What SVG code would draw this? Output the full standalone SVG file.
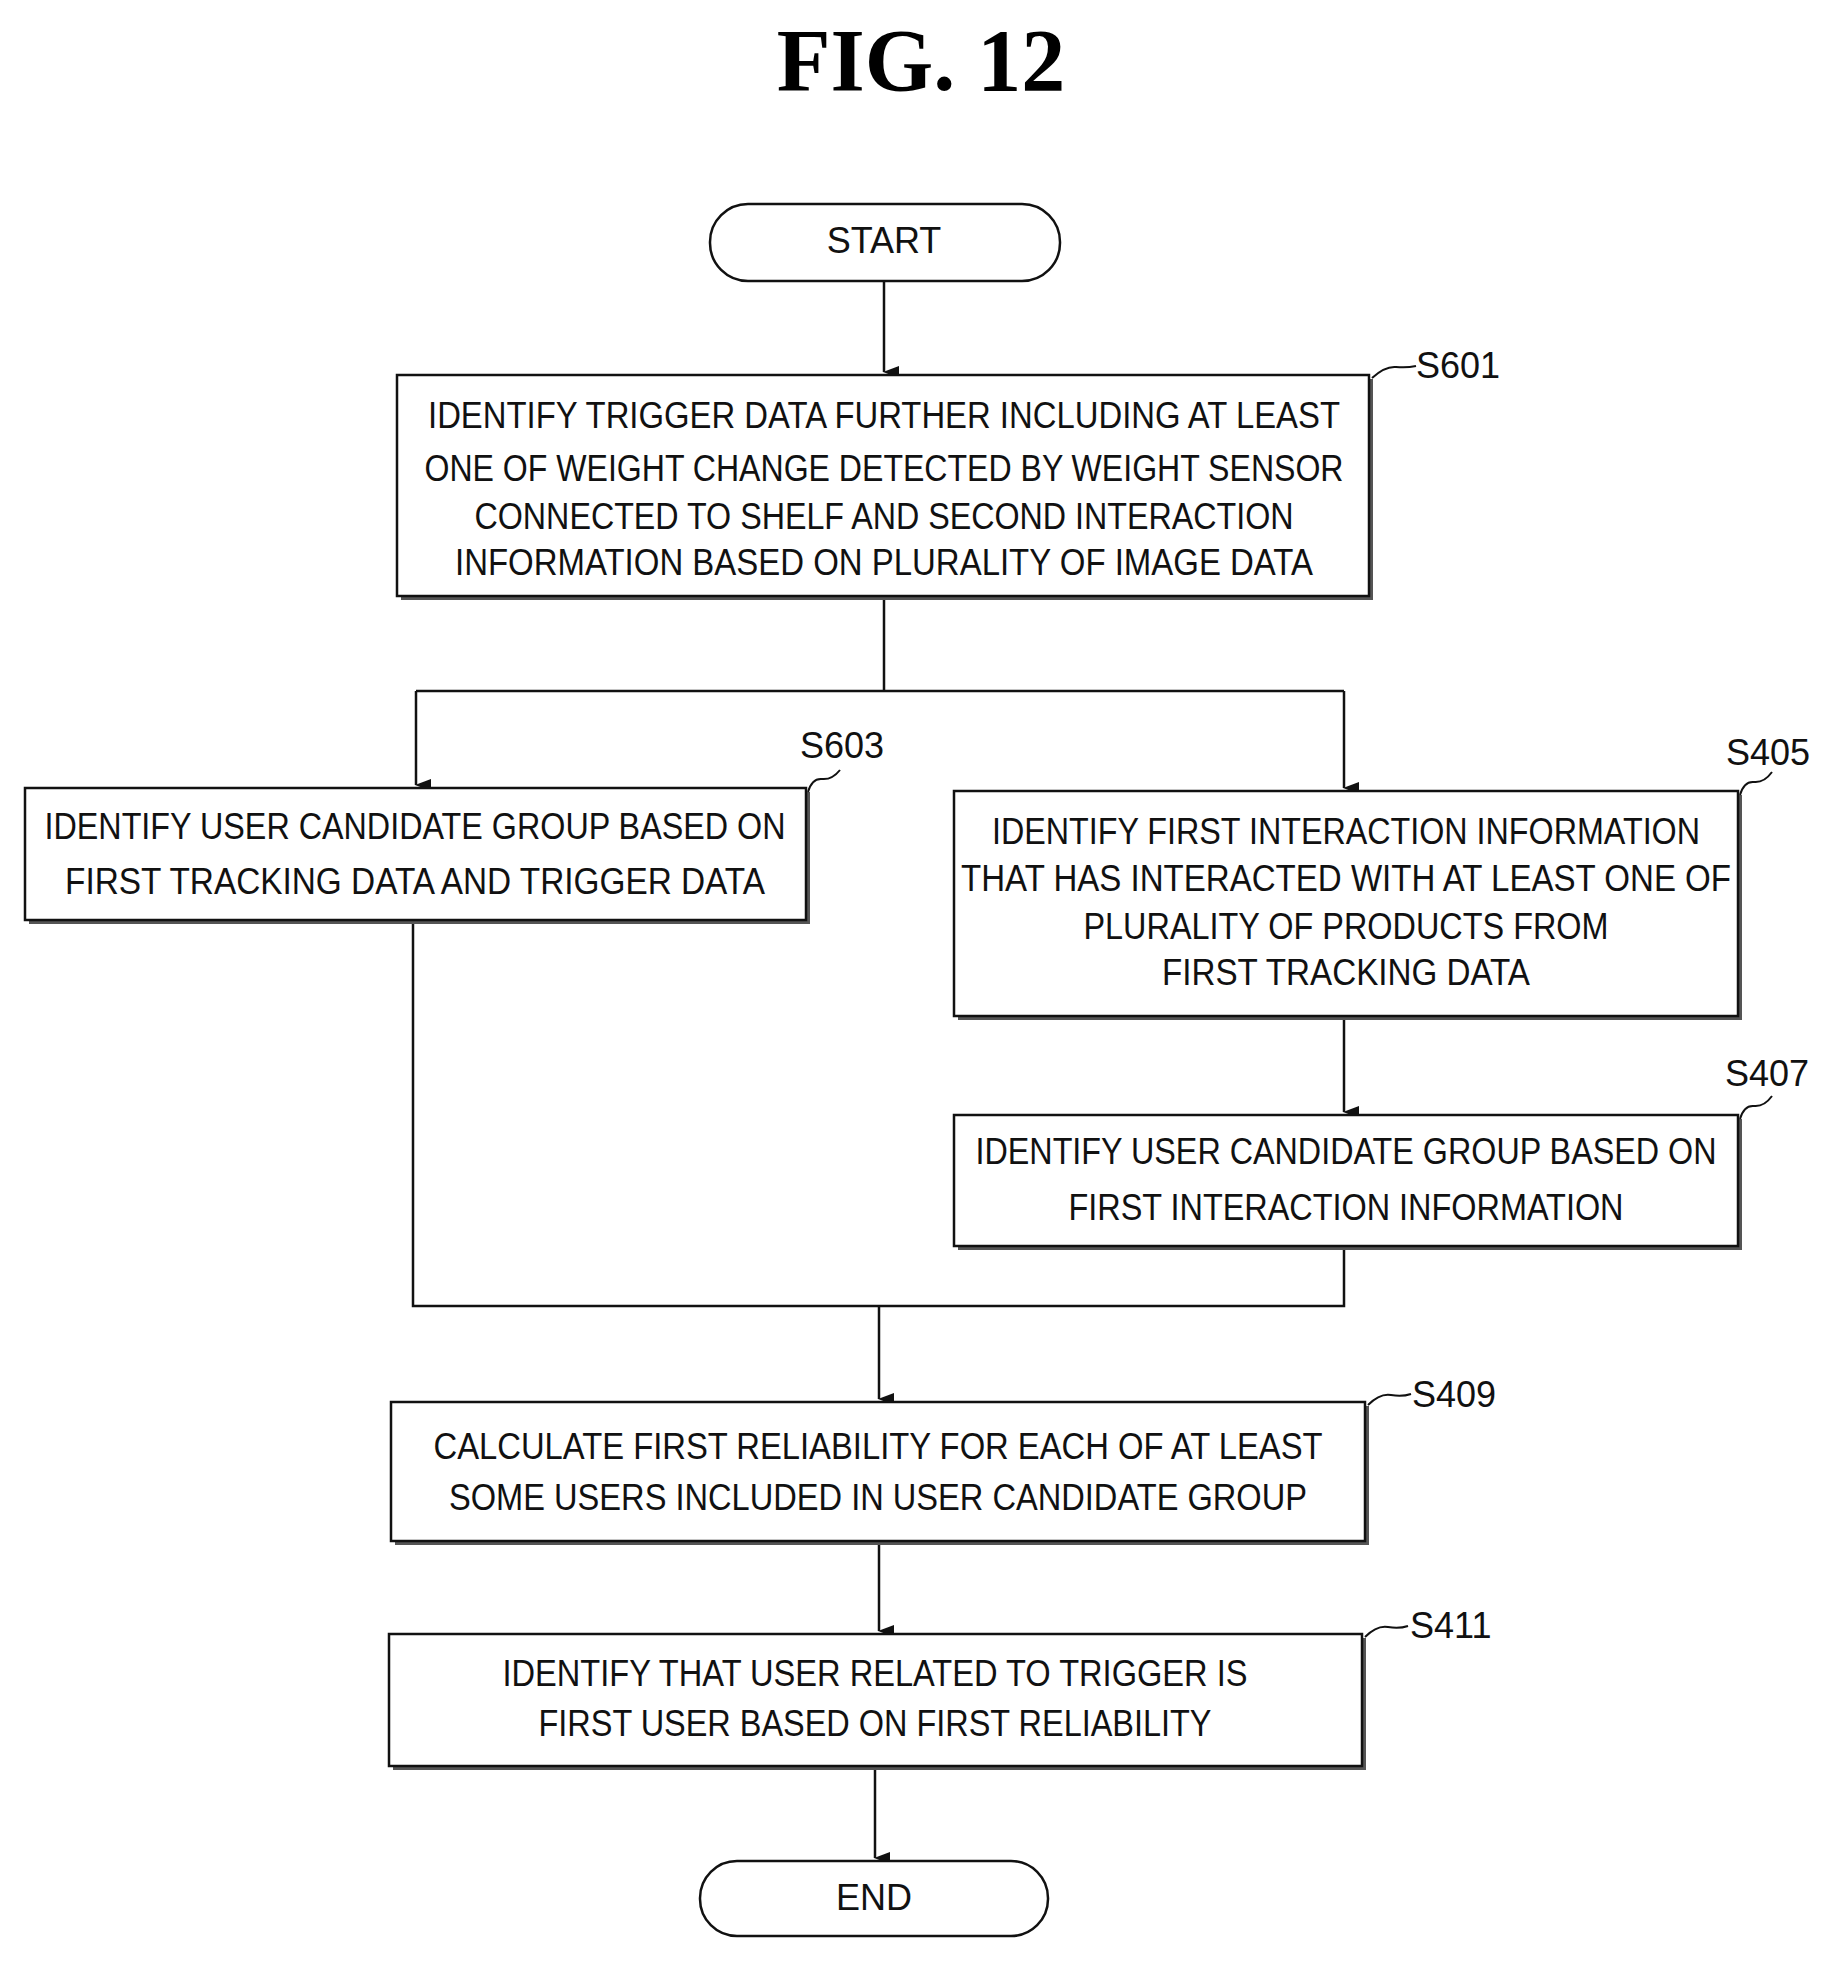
<svg xmlns="http://www.w3.org/2000/svg" width="1838" height="1974" viewBox="0 0 1838 1974">
<style>
.b{fill:#fff;stroke:#111;stroke-width:2.5}
.s{fill:#555}
.t{font-family:"Liberation Sans",Arial,sans-serif;font-size:36px;fill:#111;text-anchor:middle}
.l{font-family:"Liberation Sans",Arial,sans-serif;font-size:36px;fill:#111}
.c{fill:none;stroke:#111;stroke-width:2.5}
.ld{fill:none;stroke:#111;stroke-width:2}
</style>
<defs><marker id="a" markerWidth="12" markerHeight="16" refX="6" refY="15" orient="auto-start-reverse" markerUnits="userSpaceOnUse" viewBox="0 0 12 16"><path d="M0,0 L6,16 L12,0 Z" fill="#111" transform="rotate(0)"/></marker></defs>
<rect width="1838" height="1974" fill="#fff"/>
<text x="921" y="90" font-family="Liberation Serif,serif" font-weight="bold" font-size="88" text-anchor="middle">FIG. 12</text>
<g id="connectors">
<path class="c" d="M884,281 V372" marker-end="url(#a)"/>
<path class="c" d="M884,596 V691 M416,691 H1344"/>
<path class="c" d="M416,691 V785" marker-end="url(#a)"/>
<path class="c" d="M1344,691 V788" marker-end="url(#a)"/>
<path class="c" d="M1344,1016 V1112" marker-end="url(#a)"/>
<path class="c" d="M413,920 V1306 H1344 V1246"/>
<path class="c" d="M879,1306 V1399" marker-end="url(#a)"/>
<path class="c" d="M879,1541 V1631" marker-end="url(#a)"/>
<path class="c" d="M875,1766 V1858" marker-end="url(#a)"/>
</g>
<g id="start"><rect class="b" x="710" y="204" width="350" height="77" rx="38"/><text class="t" x="884" y="253">START</text></g>
<g id="S601"><rect class="s" x="401" y="379" width="972" height="221"/><rect class="b" x="397" y="375" width="972" height="221"/>
<text class="t" x="884" y="428" textLength="912" lengthAdjust="spacingAndGlyphs">IDENTIFY TRIGGER DATA FURTHER INCLUDING AT LEAST</text>
<text class="t" x="884" y="481" textLength="919" lengthAdjust="spacingAndGlyphs">ONE OF WEIGHT CHANGE DETECTED BY WEIGHT SENSOR</text>
<text class="t" x="884" y="529" textLength="819" lengthAdjust="spacingAndGlyphs">CONNECTED TO SHELF AND SECOND INTERACTION</text>
<text class="t" x="884" y="575" textLength="858" lengthAdjust="spacingAndGlyphs">INFORMATION BASED ON PLURALITY OF IMAGE DATA</text>
<path class="ld" d="M1372,378 Q1385,366 1396,367 T1416,366"/><text class="l" x="1416" y="378">S601</text></g>
<g id="S603"><rect class="s" x="29" y="792" width="781" height="132"/><rect class="b" x="25" y="788" width="781" height="132"/>
<text class="t" x="415" y="839" textLength="741" lengthAdjust="spacingAndGlyphs">IDENTIFY USER CANDIDATE GROUP BASED ON</text>
<text class="t" x="415" y="894" textLength="700" lengthAdjust="spacingAndGlyphs">FIRST TRACKING DATA AND TRIGGER DATA</text>
<path class="ld" d="M808,792 Q812,778 822,779 T840,770"/><text class="l" x="800" y="758">S603</text></g>
<g id="S405"><rect class="s" x="958" y="795" width="784" height="225"/><rect class="b" x="954" y="791" width="784" height="225"/>
<text class="t" x="1346" y="844" textLength="708" lengthAdjust="spacingAndGlyphs">IDENTIFY FIRST INTERACTION INFORMATION</text>
<text class="t" x="1346" y="891" textLength="770" lengthAdjust="spacingAndGlyphs">THAT HAS INTERACTED WITH AT LEAST ONE OF</text>
<text class="t" x="1346" y="939" textLength="525" lengthAdjust="spacingAndGlyphs">PLURALITY OF PRODUCTS FROM</text>
<text class="t" x="1346" y="985" textLength="368" lengthAdjust="spacingAndGlyphs">FIRST TRACKING DATA</text>
<path class="ld" d="M1740,795 Q1744,781 1754,782 T1772,772"/><text class="l" x="1726" y="765">S405</text></g>
<g id="S407"><rect class="s" x="958" y="1119" width="784" height="131"/><rect class="b" x="954" y="1115" width="784" height="131"/>
<text class="t" x="1346" y="1164" textLength="741" lengthAdjust="spacingAndGlyphs">IDENTIFY USER CANDIDATE GROUP BASED ON</text>
<text class="t" x="1346" y="1220" textLength="555" lengthAdjust="spacingAndGlyphs">FIRST INTERACTION INFORMATION</text>
<path class="ld" d="M1740,1119 Q1744,1105 1754,1106 T1772,1096"/><text class="l" x="1725" y="1086">S407</text></g>
<g id="S409"><rect class="s" x="395" y="1406" width="974" height="139"/><rect class="b" x="391" y="1402" width="974" height="139"/>
<text class="t" x="878" y="1459" textLength="889" lengthAdjust="spacingAndGlyphs">CALCULATE FIRST RELIABILITY FOR EACH OF AT LEAST</text>
<text class="t" x="878" y="1510" textLength="858" lengthAdjust="spacingAndGlyphs">SOME USERS INCLUDED IN USER CANDIDATE GROUP</text>
<path class="ld" d="M1368,1405 Q1380,1393 1391,1395 T1411,1394"/><text class="l" x="1412" y="1407">S409</text></g>
<g id="S411"><rect class="s" x="393" y="1638" width="973" height="132"/><rect class="b" x="389" y="1634" width="973" height="132"/>
<text class="t" x="875" y="1686" textLength="745" lengthAdjust="spacingAndGlyphs">IDENTIFY THAT USER RELATED TO TRIGGER IS</text>
<text class="t" x="875" y="1736" textLength="673" lengthAdjust="spacingAndGlyphs">FIRST USER BASED ON FIRST RELIABILITY</text>
<path class="ld" d="M1365,1637 Q1377,1625 1388,1627 T1408,1626"/><text class="l" x="1410" y="1638">S411</text></g>
<g id="end"><rect class="b" x="700" y="1861" width="348" height="75" rx="37"/><text class="t" x="874" y="1910">END</text></g>
</svg>
